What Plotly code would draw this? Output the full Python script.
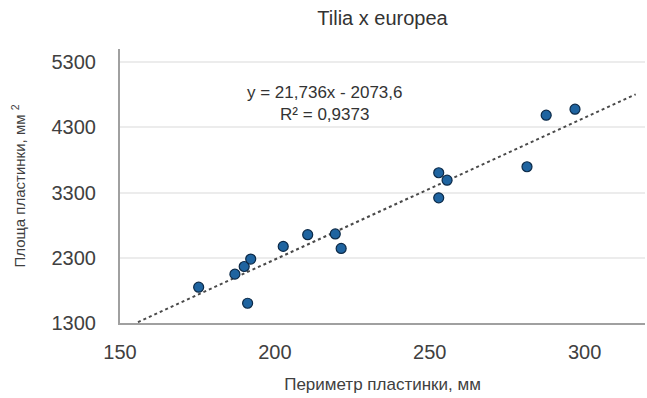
import plotly.graph_objects as go

# Data
perimeter = [175.4, 187.1, 190.1, 192.2, 191.2, 202.7, 210.6, 219.5, 221.4,
             252.9, 255.6, 252.9, 281.4, 287.6, 296.9]
area = [1849, 2049, 2166, 2280, 1603, 2474, 2654, 2665, 2443,
        3603, 3489, 3218, 3695, 4485, 4577]

# Linear trendline (as given in the chart)
trend_slope = 21.736
trend_intercept = -2073.6
trend_x = [155.8, 316.5]
trend_y = [trend_slope * v + trend_intercept for v in trend_x]

x_ticks = [150, 200, 250, 300]
y_ticks = [1300, 2300, 3300, 4300, 5300]

title_text = "Tilia x europea"
x_title = "Периметр пластинки, мм"
y_title = "Площа пластинки, мм <sup>2</sup>"
eq_text = "y = 21,736x - 2073,6<br>R² = 0,9373"

font_family = "Liberation Sans, Arial, sans-serif"

fig = go.Figure()
fig.add_trace(go.Scatter(
    x=trend_x, y=trend_y, mode="lines",
    line=dict(color="#4a4a4a", width=2, dash="dot"),
    hoverinfo="skip", showlegend=False))
fig.add_trace(go.Scatter(
    x=perimeter, y=area, mode="markers",
    marker=dict(size=10, color="#1f64a0", line=dict(color="#0c2a48", width=1.2)),
    showlegend=False))

fig.add_annotation(
    x=216, y=4660, xref="x", yref="y", text=eq_text, showarrow=False,
    font=dict(family=font_family, size=17, color="#333333"), align="center")

fig.update_layout(
    width=647, height=398,
    margin=dict(l=120, r=2, t=49, b=75),
    plot_bgcolor="white", paper_bgcolor="white",
    font=dict(family=font_family, color="#404040"),
    title=dict(text=title_text, x=0.5, xref="paper", y=1 - 18 / 398,
               yref="container", yanchor="middle", xanchor="center",
               font=dict(size=20, color="#333333")),
    xaxis=dict(range=[150, 319.5], tickvals=x_ticks, showgrid=False,
               showline=True, linecolor="#a0a0a0", linewidth=2,
               ticks="", ticklabelstandoff=10,
               tickfont=dict(size=20, color="#404040"),
               title=dict(text=x_title, standoff=16,
                          font=dict(size=17, color="#404040")),
               zeroline=False),
    yaxis=dict(range=[1300, 5500], tickvals=y_ticks, showgrid=True,
               gridcolor="#ececec", gridwidth=1.5,
               showline=True, linecolor="#a0a0a0", linewidth=2,
               ticks="", ticklabelstandoff=18,
               tickfont=dict(size=20, color="#404040"),
               title=dict(text=y_title, standoff=22,
                          font=dict(size=15, color="#404040")),
               zeroline=False),
)

fig.write_html("out.html")
